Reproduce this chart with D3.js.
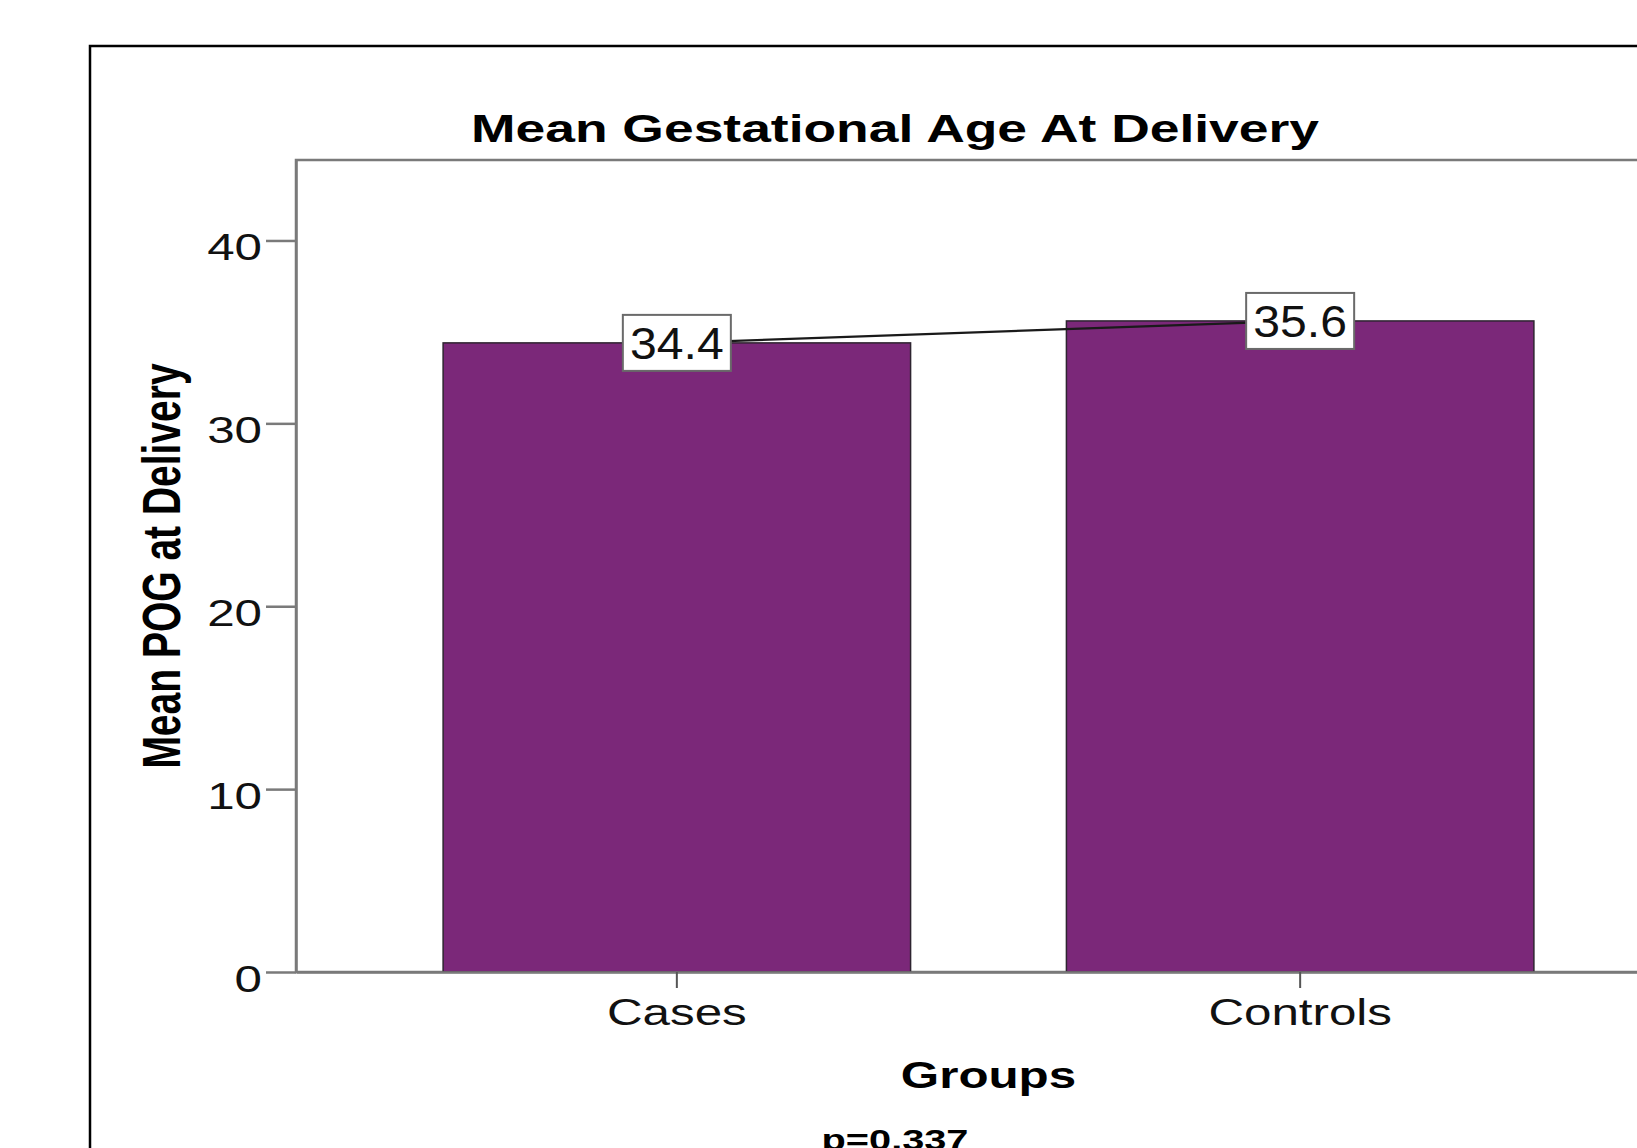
<!DOCTYPE html>
<html>
<head>
<meta charset="utf-8">
<script src="https://cdn.jsdelivr.net/npm/d3@7"></script>
<style>
    body { margin: 0; background: #fff; }
    text { font-family: "Liberation Sans", Arial, sans-serif; }
</style>
</head>
<body>
<svg width="1637" height="1148"></svg>
<script>
// chart data
const groups = ["Cases", "Controls"];
const meanPOG = [34.4, 35.6];
const yTicks = [0, 10, 20, 30, 40];
const titleText = "Mean Gestational Age At Delivery";
const yLabelText = "Mean POG at Delivery";
const xLabelText = "Groups";
const pText = "p=0.337";

// the source image is stretched horizontally
const SX = 1.37;

const svg = d3.select("svg");

// outer frame
svg.append("rect")
    .attr("x", 90).attr("y", 46)
    .attr("width", 1610).attr("height", 1200)
    .attr("fill", "none")
    .attr("stroke", "#000")
    .attr("stroke-width", 2.5);

const plot = { left: 296, right: 1681, top: 160, bottom: 972 };

const x = d3.scaleBand()
    .domain(groups)
    .range([plot.left, plot.right])
    .paddingInner(0.25)
    .paddingOuter(0.236);

const y = d3.scaleLinear()
    .domain([0, 44.4])
    .range([plot.bottom, plot.top]);

// plot frame
svg.append("rect")
    .attr("x", plot.left).attr("y", plot.top)
    .attr("width", plot.right - plot.left)
    .attr("height", plot.bottom - plot.top)
    .attr("fill", "none")
    .attr("stroke", "#7a7a7a")
    .attr("stroke-width", 2.5);

// bars
svg.selectAll(".bar")
    .data(groups)
    .enter().append("rect")
    .attr("class", "bar")
    .attr("x", d => x(d))
    .attr("y", (d, i) => y(meanPOG[i]))
    .attr("width", x.bandwidth())
    .attr("height", (d, i) => y(0) - y(meanPOG[i]))
    .attr("fill", "#7b2879")
    .attr("stroke", "#2e2430")
    .attr("stroke-width", 1.5);

// y axis
const yAxis = svg.append("g")
    .attr("transform", `translate(${plot.left},0)`)
    .call(d3.axisLeft(y).tickValues(yTicks).tickSize(30).tickSizeOuter(0).tickFormat(d3.format("d")));
yAxis.select(".domain").attr("stroke", "#7a7a7a").attr("stroke-width", 2.5);
yAxis.selectAll(".tick line").attr("stroke", "#7a7a7a").attr("stroke-width", 2.5);
yAxis.selectAll(".tick text")
    .attr("x", -34 / SX)
    .attr("y", 19)
    .attr("dy", null)
    .attr("transform", `scale(${SX},1)`)
    .style("font-size", "36px")
    .attr("fill", "#111");

// x axis
const xAxis = svg.append("g")
    .attr("transform", `translate(0,${plot.bottom})`)
    .call(d3.axisBottom(x).tickSize(16).tickSizeOuter(0));
xAxis.select(".domain").attr("stroke", "#7a7a7a").attr("stroke-width", 2.5);
xAxis.selectAll(".tick line").attr("stroke", "#555").attr("stroke-width", 2);
xAxis.selectAll(".tick text")
    .attr("y", 53)
    .attr("dy", null)
    .attr("transform", `scale(${SX},1)`)
    .style("font-size", "36px")
    .attr("fill", "#111");

// line joining the means
const line = d3.line()
    .x((d, i) => x(groups[i]) + x.bandwidth() / 2)
    .y(d => y(d));

svg.append("path")
    .datum(meanPOG)
    .attr("d", line)
    .attr("fill", "none")
    .attr("stroke", "#1a1a1a")
    .attr("stroke-width", 2.2);

// value labels
const labels = svg.selectAll(".vlabel")
    .data(meanPOG)
    .enter().append("g")
    .attr("class", "vlabel")
    .attr("transform", (d, i) => `translate(${x(groups[i]) + x.bandwidth() / 2},${y(d)})`);

labels.append("rect")
    .attr("x", -54).attr("y", -28)
    .attr("width", 108).attr("height", 56)
    .attr("fill", "#fff")
    .attr("stroke", "#6a6a6a")
    .attr("stroke-width", 2);

labels.append("text")
    .attr("text-anchor", "middle")
    .attr("y", 16)
    .attr("transform", "scale(1.07,1)")
    .style("font-size", "45px")
    .attr("fill", "#111")
    .text(d => d.toFixed(1));

// title
svg.append("text")
    .attr("text-anchor", "middle")
    .attr("transform", `translate(895,142) scale(${SX},1)`)
    .style("font-size", "39px")
    .style("font-weight", "bold")
    .text(titleText);

// y axis label
svg.append("text")
    .attr("text-anchor", "middle")
    .attr("transform", `translate(180,${(plot.top + plot.bottom) / 2}) scale(${SX},1) rotate(-90)`)
    .style("font-size", "39px")
    .style("font-weight", "bold")
    .text(yLabelText);

// x axis label
svg.append("text")
    .attr("text-anchor", "middle")
    .attr("transform", `translate(${(plot.left + plot.right) / 2},1088) scale(${SX},1)`)
    .style("font-size", "36px")
    .style("font-weight", "bold")
    .text(xLabelText);

// p value
svg.append("text")
    .attr("text-anchor", "middle")
    .attr("transform", `translate(895,1150) scale(${SX},1)`)
    .style("font-size", "29px")
    .style("font-weight", "bold")
    .text(pText);
</script>
</body>
</html>
